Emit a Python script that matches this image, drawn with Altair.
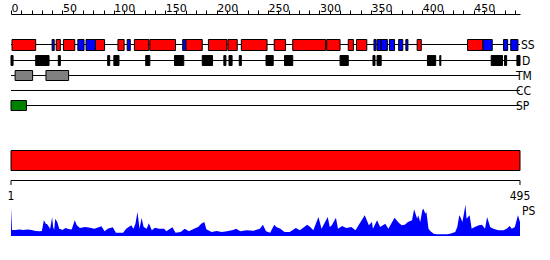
import altair as alt
import pandas as pd

LENGTH = 495
FONT = "DejaVu Sans Condensed"
AXIS_FONT = "DejaVu Sans"

# Secondary structure (SS): helices (red) and strands (blue), residue ranges
HELIX_START = [1, 44, 51, 82, 104, 120, 135, 170, 192, 211, 224, 256, 274, 307, 328, 336, 395, 444]
HELIX_END = [24, 48, 62, 91, 110, 134, 160, 186, 210, 220, 249, 267, 306, 320, 333, 346, 399, 459]
STRAND_START = [40, 65, 73, 113, 167, 353, 356, 360, 368, 377, 384, 459, 479, 486]
STRAND_END = [42, 71, 82, 116, 170, 355, 360, 366, 373, 381, 386, 468, 483, 493]

# Disorder (D)
DIS_START = [0, 24, 46, 94, 100, 131, 159, 186, 207, 212, 222, 248, 266, 320, 352, 356, 405, 417, 467, 480, 492]
DIS_END = [2, 37, 48, 96, 105, 135, 168, 196, 209, 215, 224, 255, 274, 328, 354, 360, 413, 418, 478, 482, 495]

# Transmembrane (TM), signal peptide (SP)
TM_START = [4, 34]
TM_END = [21, 56]
SP_START = [0]
SP_END = [15]

TRACKS = ["SS", "D", "TM", "CC", "SP"]

# PS profile (residue, value)
PS_RES = [0, 1, 4, 8, 12, 16, 20, 24, 28, 30, 32, 34, 35, 37, 38, 40, 41, 42, 43, 45, 47, 48, 50, 53, 56, 59,
          62, 64, 67, 72, 77, 81, 86, 88, 91, 94, 99, 102, 109, 112, 117, 119, 121, 123, 125, 127, 129, 132,
          134, 137, 140, 144, 149, 151, 157, 160, 165, 169, 173, 178, 182, 185, 188, 190, 195, 200, 205, 210,
          216, 219, 223, 229, 236, 242, 245, 248, 252, 256, 258, 262, 266, 271, 277, 281, 288, 291, 294, 299,
          302, 308, 310, 312, 316, 318, 322, 326, 331, 335, 338, 344, 348, 351, 352, 356, 359, 364, 367, 373,
          377, 380, 383, 386, 390, 392, 395, 396, 398, 400, 401, 403, 404, 406, 408, 411, 414, 424, 427, 432,
          434, 436, 437, 439, 442, 443, 446, 448, 451, 455, 458, 461, 463, 466, 469, 474, 479, 482, 485, 487,
          490, 493, 495]
PS_VAL = [28, 6, 6, 6.5, 6, 6.5, 6, 5, 4.7, 5, 15.7, 12, 12, 9, 7, 18.7, 9, 6, 17.3, 14, 7, 7, 6, 8, 7, 6.5,
          15.7, 10.7, 8, 9, 8.3, 7.3, 9, 9.7, 4.7, 7.3, 8.7, 3.3, 3.3, 7.3, 10.7, 7.3, 12.3, 24, 7.3, 18, 9, 7.3,
          12.7, 5.7, 8.3, 7.3, 7.3, 4.7, 8.7, 3.3, 4, 7.3, 4.7, 7.3, 9, 12.3, 14, 6.7, 4, 5, 4, 4.7,
          6, 7.3, 4.7, 5.7, 5.3, 7.3, 11.3, 4.7, 3.3, 11.3, 9, 7.3, 4, 4, 8, 5.7, 11.3, 9, 5.7, 19,
          7.3, 19, 9, 10.7, 18.3, 7.3, 10, 8, 9, 5.7, 10.7, 20.7, 10.7, 14, 7.3, 15.7, 9, 12.3, 7.3, 18.3,
          13.3, 10.7, 11.3, 14, 15.7, 26.7, 17.3, 20.7, 14, 25.7, 27.3, 22.3, 24, 7.3, 4.7, 2.3, 1.7, 1.7, 2.3, 4,
          9, 20.7, 19, 14, 31.3, 17.3, 20.7, 7.3, 9, 10.7, 11.3, 7.3, 19, 9, 7.3, 5.7, 5.7, 7.3, 10, 7.3,
          9, 20.7, 14]

AXIS_END_LABELS = [1, 495]

XS = alt.Scale(domain=[0, LENGTH], range=[11, 520], nice=False, zero=False)
AX = alt.Axis(
    orient="top", offset=-14, values=list(range(0, 500, 10)),
    labelExpr="datum.value % 50 === 0 ? datum.label : ''",
    tickSize=4, tickColor="black", domainColor="black", tickWidth=1, domainWidth=1,
    labelAlign="left", labelBaseline="alphabetic", labelPadding=-1,
    labelFont=AXIS_FONT, labelFontSize=11, labelColor="black",
    labelFlush=False, labelOverlap=False, grid=False, title=None, format="d",
)


def xenc(field):
    return alt.X(f"{field}:Q", scale=XS, axis=AX)


def boxes(starts, ends, color, y0, y1):
    df = pd.DataFrame({"s": starts, "e": ends})
    return alt.Chart(df).mark_rect(color=color, stroke="black", strokeWidth=1).encode(
        x=xenc("s"), x2="e:Q", y=alt.value(y0), y2=alt.value(y1)
    )


layers = []
track_y = {"SS": 44.5, "D": 60.5, "TM": 75.5, "CC": 90.5, "SP": 105.5}
label_x = {"SS": 521, "D": 522, "TM": 516, "CC": 516, "SP": 516}
for t in TRACKS:
    df = pd.DataFrame({"s": [0], "e": [LENGTH], "name": [t]})
    base = alt.Chart(df)
    layers.append(base.mark_rule(color="black", strokeWidth=1).encode(
        x=xenc("s"), x2="e:Q", y=alt.value(track_y[t])))
    layers.append(base.mark_text(align="left", baseline="middle", font=FONT, fontSize=12, color="black").encode(
        text="name:N", x=alt.value(label_x[t]), y=alt.value(track_y[t] + 0.5)))

layers.append(boxes(HELIX_START, HELIX_END, "#ff0000", 39.5, 50.5))
layers.append(boxes(STRAND_START, STRAND_END, "#0000ff", 39.5, 50.5))
layers.append(boxes(DIS_START, DIS_END, "#000000", 55.5, 65.5))
layers.append(boxes(TM_START, TM_END, "#808080", 70.5, 80.5))
layers.append(boxes(SP_START, SP_END, "#008000", 100.5, 110.5))

# big red bar
layers.append(boxes([0], [LENGTH], "#ff0000", 150.5, 170.5))

# bottom ruler
ends_df = pd.DataFrame({"s": [0], "e": [LENGTH]})
layers.append(alt.Chart(ends_df).mark_rule(color="black").encode(
    x=xenc("s"), x2="e:Q", y=alt.value(180.5)))
lab_df = pd.DataFrame({"r": AXIS_END_LABELS, "pos": [0, LENGTH]})
layers.append(alt.Chart(lab_df).mark_rule(color="black").encode(
    x=xenc("pos"), y=alt.value(180.5), y2=alt.value(185)))
layers.append(alt.Chart(lab_df).mark_text(font=FONT, fontSize=12, color="black", baseline="middle", align="center").encode(
    x=xenc("pos"), y=alt.value(195.5), text="r:N"))

# PS profile
ps_df = pd.DataFrame({"res": PS_RES, "v": PS_VAL})
layers.append(alt.Chart(ps_df).mark_area(color="#0000ff", interpolate="linear").encode(
    x=xenc("res"),
    y=alt.Y("v:Q", scale=alt.Scale(domain=[0, 31], range=[236, 205]), axis=None),
))
layers.append(alt.Chart(pd.DataFrame({"name": ["PS"]})).mark_text(
    align="left", baseline="middle", font=FONT, fontSize=12, color="black").encode(
    text="name:N", x=alt.value(522), y=alt.value(211)))

chart = alt.layer(*layers).properties(
    width=550, height=260, padding=0, autosize="none", background="white"
).configure_view(stroke=None)

chart.save("out.html", embed_options={"renderer": "svg", "actions": False})
